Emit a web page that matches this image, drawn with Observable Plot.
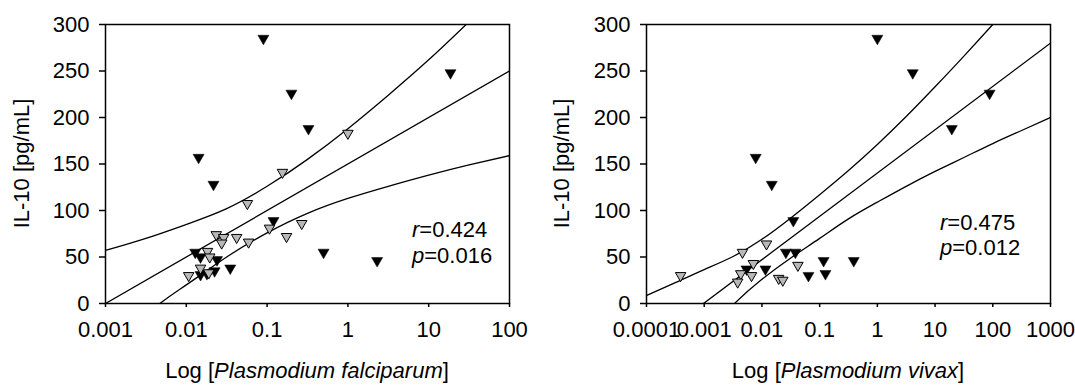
<!DOCTYPE html>
<html><head><meta charset="utf-8">
<script src="https://cdn.jsdelivr.net/npm/d3@7"></script>
<script src="https://cdn.jsdelivr.net/npm/@observablehq/plot@0.6"></script>
<style>
body{margin:0;background:#fff;}
#wrap{display:flex;width:1075px;height:387px;overflow:hidden;}
svg{display:block;}
</style></head><body><div id="wrap"></div>
<script>
// ---------- Plasmodium falciparum panel ----------
const pfBlackX = [0.09, 0.0142, 0.0217, 0.2, 0.325, 18.6, 0.12, 0.5, 0.0129, 0.015, 0.024, 0.035, 0.015, 0.018, 0.0224, 2.3];
const pfBlackY = [285, 157, 128, 226, 188, 248, 89, 55, 55, 50, 47, 38, 31, 32, 35, 46];
const pfGreyX = [1.0, 0.155, 0.057, 0.107, 0.268, 0.174, 0.0235, 0.029, 0.042, 0.0274, 0.059, 0.0183, 0.0195, 0.015, 0.0107, 0.019];
const pfGreyY = [183, 141, 107.5, 81, 86, 72, 74, 71, 71, 65, 66, 56, 50, 38, 30, 33];
const pfBandX = [0.001, 0.00316, 0.01, 0.0316, 0.1, 0.316, 1, 3.16, 10, 31.6, 100];
const pfUpper = [57, 70, 85, 102, 126, 155, 188, 224, 262, 303, 345];
const pfLower = [-57, -12, 20, 50, 76, 97, 113, 126, 138, 149, 159];
const pfFitX = [0.001, 100];
const pfFitY = [0, 250];
const pfTicks = [0.001, 0.01, 0.1, 1, 10, 100];

// ---------- Plasmodium vivax panel ----------
const pvBlackX = [1, 4.1, 88, 19.5, 0.0078, 0.0148, 0.035, 0.026, 0.038, 0.117, 0.39, 0.064, 0.126, 0.0115, 0.0054];
const pvBlackY = [285, 248, 226, 188, 157, 128, 89, 55, 55, 46, 46, 30, 32, 37, 37];
const pvGreyX = [0.00039, 0.0046, 0.012, 0.0071, 0.0043, 0.0066, 0.0038, 0.0195, 0.023, 0.042];
const pvGreyY = [30, 55, 64, 43, 32, 30, 23, 27, 25, 41];
const pvBandX = [0.0001, 0.000316, 0.001, 0.00316, 0.01, 0.0316, 0.1, 0.316, 1, 3.16, 10, 31.6, 100, 316, 1000];
const pvUpper = [8.6, 22.5, 36.5, 50.5, 69, 92, 117, 143, 171, 201, 233, 266, 300, 333, 366];
const pvLower = [-100, -67, -34, -1.5, 26, 49, 70, 91, 109, 126, 142, 157, 172, 186, 200];
const pvFitX = [0.0001, 1000];
const pvFitY = [-46, 280];
const pvTicks = [0.0001, 0.001, 0.01, 0.1, 1, 10, 100, 1000];

const yTicks = [0, 50, 100, 150, 200, 250, 300];

const triangleDown = {
  draw(ctx, size) {
    const y = -Math.sqrt(size / (Math.sqrt(3) * 3));
    ctx.moveTo(0, -2 * y);
    ctx.lineTo(-Math.sqrt(3) * y, y);
    ctx.lineTo(Math.sqrt(3) * y, y);
    ctx.closePath();
  }
};

const zip = (xs, ys) => xs.map((x, i) => ({x, y: ys[i]}));
const FONT = "'Liberation Sans', Arial, Helvetica, sans-serif";
const FS = 22;

function panel(o) {
  const plot = Plot.plot({
    width: o.width, height: 387,
    marginLeft: o.marginLeft, marginRight: o.marginRight, marginTop: 24, marginBottom: 84,
    style: {fontFamily: FONT, fontSize: FS + "px", background: "#fff", color: "#000", overflow: "visible"},
    x: {type: "log", domain: o.domain},
    y: {domain: [0, 300]},
    marks: [
      Plot.line(zip(o.bandX, o.upper), {x: "x", y: "y", curve: "natural", clip: true, stroke: "#000", strokeWidth: 1.3}),
      Plot.line(zip(o.bandX, o.lower), {x: "x", y: "y", curve: "natural", clip: true, stroke: "#000", strokeWidth: 1.3}),
      Plot.line(zip(o.fitX, o.fitY), {x: "x", y: "y", clip: true, stroke: "#000", strokeWidth: 1.3}),
      Plot.dot(zip(o.blackX, o.blackY), {x: "x", y: "y", symbol: triangleDown, r: 4.1, fill: "#000", stroke: "#000", strokeWidth: 0.5}),
      Plot.dot(zip(o.greyX, o.greyY), {x: "x", y: "y", symbol: triangleDown, r: 3.9, fill: "#b8b8b8", stroke: "#000", strokeWidth: 1}),
      Plot.axisX({ticks: o.ticks, tickFormat: d => String(d), tickSize: 4, tickPadding: 14, strokeWidth: 1.5, label: null}),
      Plot.axisY({ticks: yTicks, tickFormat: d => String(d), tickSize: 6, tickPadding: 10, strokeWidth: 1.5, label: null}),
      Plot.frame({stroke: "#000", strokeWidth: 1.5})
    ]
  });
  const svg = d3.select(plot);
  const cx = o.marginLeft + (o.width - o.marginLeft - o.marginRight) / 2;
  svg.append("text").attr("x", cx).attr("y", 378).attr("text-anchor", "middle")
    .attr("font-family", FONT).attr("font-size", FS).attr("fill", "#000")
    .call(t => {
      t.append("tspan").text("Log [");
      t.append("tspan").attr("font-style", "italic").text(o.species);
      t.append("tspan").text("]");
    });
  svg.append("text").attr("transform", `translate(${o.yTitleX},163.5) rotate(-90)`)
    .attr("text-anchor", "middle").attr("font-family", FONT).attr("font-size", FS).attr("fill", "#000")
    .text("IL-10 [pg/mL]");
  const ann = [["r", o.rText, o.annY1], ["p", o.pText, o.annY2]];
  ann.forEach(([k, v, y]) => {
    svg.append("text").attr("x", o.annX).attr("y", y).attr("text-anchor", "start")
      .attr("font-family", FONT).attr("font-size", FS).attr("fill", "#000")
      .call(t => {
        t.append("tspan").attr("font-style", "italic").text(k);
        t.append("tspan").text("=" + v);
      });
  });
  return plot;
}

const wrap = document.getElementById("wrap");
wrap.appendChild(panel({
  width: 537, marginLeft: 105, marginRight: 28, domain: [0.001, 100], ticks: pfTicks,
  blackX: pfBlackX, blackY: pfBlackY, greyX: pfGreyX, greyY: pfGreyY,
  bandX: pfBandX, upper: pfUpper, lower: pfLower, fitX: pfFitX, fitY: pfFitY,
  species: "Plasmodium falciparum", yTitleX: 28.5,
  rText: "0.424", pText: "0.016", annX: 412, annY1: 237, annY2: 263
}));
wrap.appendChild(panel({
  width: 538, marginLeft: 109, marginRight: 25, domain: [0.0001, 1000], ticks: pvTicks,
  blackX: pvBlackX, blackY: pvBlackY, greyX: pvGreyX, greyY: pvGreyY,
  bandX: pvBandX, upper: pvUpper, lower: pvLower, fitX: pvFitX, fitY: pvFitY,
  species: "Plasmodium vivax", yTitleX: 31.5,
  rText: "0.475", pText: "0.012", annX: 403, annY1: 230, annY2: 255
}));
</script>
</body></html>
